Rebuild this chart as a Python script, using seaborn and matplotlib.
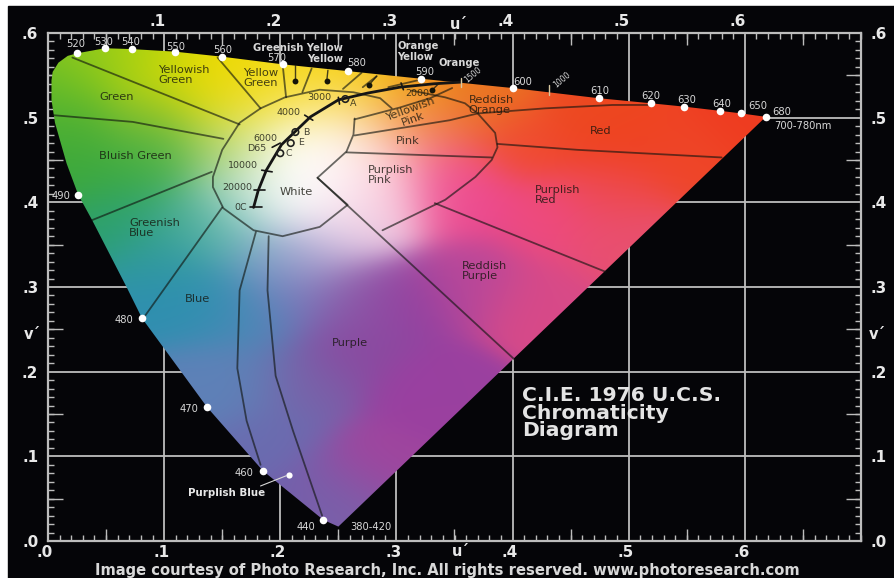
import numpy as np
import pandas as pd
import seaborn as sns
import matplotlib.pyplot as plt
from matplotlib.colors import to_rgb
from matplotlib.patches import Polygon, Rectangle
from matplotlib.transforms import ScaledTranslation

# spectral locus
locus_u = [.003, .004, .009, .017, .025, .049, .072, .109, .150, .202, .258, .321, .400, .474, .519, .548, .579, .597, .618,
           .250, .237, .185, .137, .081, .068, .038, .026, .016, .006, .003]
locus_v = [.544, .554, .565, .573, .576, .582, .581, .578, .572, .563, .555, .546, .535, .523, .517, .513, .508, .505, .501,
           .017, .025, .083, .158, .263, .299, .379, .409, .446, .494, .521]

# wavelength dots and their labels
wave_labels = ["520", "530", "540", "550", "560", "570", "580", "590", "600", "610", "620", "630", "640", "650", "680",
               "490", "480", "470", "460", "440"]
wave_u = [.025, .049, .072, .109, .150, .202, .258, .321, .400, .474, .519, .548, .579, .597, .618, .026, .081, .137, .185, .237]
wave_v = [.576, .582, .581, .578, .572, .563, .555, .546, .535, .523, .517, .513, .508, .505, .501, .409, .263, .158, .083, .025]
wave_text_u = [.024, .048, .071, .110, .150, .197, .266, .324, .409, .475, .519, .550, .580, .611, .632, .011, .065, .121, .169, .222]
wave_text_v = [.587, .589, .589, .584, .580, .571, .564, .554, .542, .532, .525, .521, .516, .514, .507, .407, .261, .156, .080, .017]

# colour anchors of the gamut
anchor_u = [.010, .028, .071, .109, .152, .204, .256, .307, .372, .475, .604, .493, .406, .329, .286, .243, .148, .088, .019,
            .088, .144, .174, .226, .217, .234, .191, .161, .032, .088, .062, .122, .105, .144, .109, .152, .191, .226, .260,
            .286, .286, .264, .338, .355, .432, .484, .544, .493, .424, .363, .303, .260, .329, .277, .251, .234, .191, .217,
            .165, .131, .174, .210, .260, .250, .240, .190, .230, .180, .240]
anchor_v = [.532, .566, .568, .550, .550, .544, .544, .532, .521, .503, .501, .473, .473, .485, .497, .515, .509, .509, .485,
            .473, .462, .473, .468, .438, .409, .403, .414, .438, .438, .385, .385, .332, .285, .273, .367, .332, .344, .373,
            .403, .450, .428, .438, .403, .379, .414, .456, .355, .285, .308, .285, .231, .178, .084, .037, .048, .119, .190,
            .190, .190, .261, .290, .290, .460, .490, .520, .525, .545, .548]
anchor_colors = ["#5cb82c", "#8cc81c", "#a8d210", "#d8dc04", "#f2da00", "#f8d800", "#f4c400", "#f09c10", "#ea7620", "#ec4a20",
                 "#ee3c20", "#f04020", "#f04a30", "#f07850", "#f8a860", "#faf0a8", "#d8d810", "#94c428", "#48ae35",
                 "#58b440", "#90c860", "#ecf0b0", "#ffffff", "#ffffff", "#ffffff", "#f8fbf8", "#b0d8c4", "#3ca83c", "#3cac48",
                 "#2ca070", "#40a890", "#2f98a0", "#2e90b0", "#2f8fb0", "#60b8b0", "#7aa0c8", "#c0b0d8", "#ecd0e8",
                 "#f8c8dc", "#fcd0d8", "#fde4ec", "#f05090", "#ec4a90", "#ee4a80", "#ee4a50", "#ee4628", "#e85070", "#d84a88",
                 "#b8489a", "#9440a0", "#8a4aa0", "#9a40a0", "#a0459e", "#8060a8", "#6f60ac", "#6a6cb0", "#7a60a8",
                 "#5c84b8", "#5f80b8", "#4c88b8", "#7a78bc", "#8a5ca8", "#ffffff", "#fffbe8", "#f4e878", "#fbe070",
                 "#ecd800", "#f8d400"]

# boundaries between the named colour regions
green_line = [(.021, .571), (.165, .492)]
yellowish_line = [(.146, .571), (.183, .511)]
yellow_green_line = [(.202, .563), (.205, .524)]
greenish_yellow_line = [(.227, .558), (.219, .530)]
yellow_line = [(.270, .553), (.254, .534)]
yellow_orange_line = [(.283, .549), (.271, .536)]
orange_line = [(.318, .544), (.293, .536)]
bluish_green_line = [(.004, .503), (.073, .495), (.151, .475)]
greenish_blue_line = [(.038, .379), (.141, .436)]
blue_line = [(.082, .263), (.150, .394)]
purplish_blue_left = [(.179, .365), (.165, .296), (.163, .204), (.171, .142), (.183, .090)]
purplish_blue_right = [(.190, .360), (.189, .296), (.196, .195), (.211, .130), (.224, .078), (.236, .030)]
white_arc = [(.296, .511), (.286, .523), (.263, .530), (.234, .533), (.204, .524), (.183, .511), (.165, .494), (.150, .462),
             (.142, .430), (.142, .418), (.151, .393), (.177, .367), (.202, .360), (.234, .371), (.258, .397), (.232, .429),
             (.257, .460), (.263, .480), (.264, .499)]
yellowish_pink_top = [(.264, .498), (.303, .512), (.329, .523), (.348, .535)]
pink_line = [(.264, .479), (.346, .497), (.370, .505), (.428, .511), (.486, .515), (.520, .515)]
pink_purple_line = [(.257, .459), (.382, .453)]
outer_arc = [(.313, .532), (.342, .524), (.359, .517), (.370, .505), (.385, .482), (.387, .465), (.382, .450), (.368, .430),
             (.342, .403), (.288, .367)]
red_line = [(.387, .469), (.456, .462), (.580, .453)]
purple_red_line = [(.333, .399), (.480, .318)]
purple_long_line = [(.232, .429), (.402, .214)]
region_lines = [green_line, yellowish_line, yellow_green_line, greenish_yellow_line, yellow_line, yellow_orange_line,
                orange_line, bluish_green_line, greenish_blue_line, blue_line, purplish_blue_left, purplish_blue_right,
                white_arc, yellowish_pink_top, pink_line, pink_purple_line, outer_arc, red_line, purple_red_line,
                purple_long_line]

# blackbody curve with its temperature marks
planck_u = [.177, .181, .188, .201, .226, .250, .275, .303, .332, .356]
planck_v = [.394, .414, .438, .468, .501, .521, .529, .536, .540, .542]
cct_marks = [[(.174, .394), (.184, .394)], [(.177, .415), (.187, .415)], [(.184, .438), (.193, .436)],
             [(.193, .465), (.200, .470)], [(.221, .503), (.228, .497)], [(.250, .524), (.251, .516)],
             [(.304, .541), (.306, .533)]]
cct_labels = [("3000", .234, .524), ("4000", .207, .506), ("6000", .187, .475), ("D65", .180, .464), ("10000", .168, .443),
              ("20000", .163, .417), ("0C", .166, .394), ("2000", .318, .528)]
illum_u = [.256, .213, .209, .200]
illum_v = [.522, .483, .470, .458]
illum_labels = [("A", .263, .517), ("B", .222, .483), ("E", .218, .471), ("C", .207, .458)]
pointer_dots_u = [.213, .240, .276, .331]
pointer_dots_v = [.543, .543, .538, .533]
pointer_tails = [[(.213, .562), (.213, .543)], [(.241, .556), (.240, .543)], [(.283, .549), (.276, .538)],
                 [(.337, .541), (.331, .533)]]
kelvin_ticks = [[(.356, .547), (.356, .536)], [(.431, .538), (.431, .527)]]
purplish_blue_pointer = [(.183, .065), (.205, .077)]
purplish_blue_dot_u = [.2075]
purplish_blue_dot_v = [.078]

region_labels = [("Green", .059, .524), ("Bluish Green", .075, .455), ("Yellow\nGreen", .183, .547), ("White", .214, .412),
                 ("Pink", .310, .472), ("Red", .476, .484), ("Blue", .129, .286), ("Purple", .260, .234)]
region_left_labels = [("Yellowish\nGreen", .095, .550), ("Greenish\nBlue", .070, .370), ("Purplish\nPink", .275, .432),
                      ("Reddish\nOrange", .362, .515), ("Purplish\nRed", .419, .409), ("Reddish\nPurple", .356, .319)]
outside_labels = [("Greenish Yellow", .215, .582), ("Yellow", .239, .569), ("Orange", .354, .565)]
u_ticks = [0, .1, .2, .3, .4, .5, .6]
v_ticks = [0, .1, .2, .3, .4, .5, .6]
tick_text = [".0", ".1", ".2", ".3", ".4", ".5", ".6"]
half_ticks = [.05, .15, .25, .35, .45, .55, .65]

sns.set_theme(style="ticks", rc={"axes.facecolor": "black"})
plt.rcParams["font.family"] = ["DejaVu Sans"]

fig = plt.figure(figsize=(8.94, 5.78), dpi=100, facecolor="white")
fig.add_artist(Rectangle((8 / 894, 0), 886 / 894, 572 / 578, transform=fig.transFigure, color="#050508", zorder=-5))
ax = fig.add_axes([48 / 894, 1 - 541 / 578, 813 / 894, 508 / 578])
ax.set_xlim(0, .7)
ax.set_ylim(0, .6)
GRID = "#bdbdbd"
ax.set_facecolor("#050508")

# gradient of the gamut, clipped to the locus
uu, vv = np.meshgrid(np.linspace(0, .7, 700), np.linspace(0, .6, 500))
au, av = np.array(anchor_u), np.array(anchor_v)
rgb = np.array([to_rgb(c) for c in anchor_colors])
weights = np.exp(-((uu[..., None] - au) ** 2 + (vv[..., None] - av) ** 2) / (2 * .03 ** 2)) + 1e-12
field = (weights[..., None] * rgb).sum(axis=2) / weights.sum(axis=2, keepdims=True)
im = ax.imshow(field, extent=(0, .7, 0, .6), origin="lower", aspect="auto", zorder=1, interpolation="bilinear")
gamut = Polygon(list(zip(locus_u, locus_v)), closed=True, transform=ax.transData, facecolor="none", edgecolor="none")
ax.add_patch(gamut)
im.set_clip_path(gamut)


def draw_line(points, color, width, alpha=1.0):
    line = pd.DataFrame(points, columns=["u", "v"])
    sns.lineplot(data=line, x="u", y="v", sort=False, estimator=None, color=color, linewidth=width, alpha=alpha,
                 legend=False, ax=ax, zorder=3)


for points in region_lines:
    draw_line(points, "#10140f", 1.3, .62)
draw_line(list(zip(planck_u, planck_v)), "#151515", 2.0)
for points in cct_marks:
    draw_line(points, "#151515", 1.2)
for points in pointer_tails:
    draw_line(points, "#1a1a10", 1.0, .8)
for points in kelvin_ticks:
    draw_line(points, "#d8c8a0", 1.0)
draw_line(purplish_blue_pointer, "#d8d8d8", .8)

# dots
sns.scatterplot(x=wave_u, y=wave_v, color="white", s=30, linewidth=0, legend=False, ax=ax, zorder=5)
sns.scatterplot(x=purplish_blue_dot_u, y=purplish_blue_dot_v, color="white", s=20, linewidth=0, legend=False, ax=ax, zorder=5)
sns.scatterplot(x=pointer_dots_u, y=pointer_dots_v, color="#141408", s=18, linewidth=0, legend=False, ax=ax, zorder=5)
sns.scatterplot(x=illum_u, y=illum_v, facecolor="none", edgecolor="#202020", s=22, linewidth=1.2, legend=False, ax=ax, zorder=5)

# axis dressing
ax.set_xticks(u_ticks, tick_text)
ax.set_yticks(v_ticks, tick_text)
ax.set_xticks(np.arange(0, .701, .01), minor=True)
ax.set_yticks(np.arange(0, .601, .01), minor=True)
ax.set_xlabel("")
ax.set_ylabel("")
ax.set_axisbelow(True)
ax.grid(True, which="major", color=GRID, linewidth=1.3)
ax.tick_params(which="minor", direction="in", length=4, width=1, color=GRID, top=True, bottom=True, left=True, right=True)
ax.tick_params(which="major", direction="in", length=0, top=True, bottom=True, left=True, right=True, labeltop=True,
               labelbottom=True, labelleft=True, labelright=True, labelsize=11, labelcolor="#e8e8e8")
ax.tick_params(axis="x", which="major", pad=3)
ax.tick_params(axis="y", which="major", pad=7)
for lab in ax.get_xticklabels() + ax.get_yticklabels():
    lab.set_fontweight("bold")
for tick in ax.xaxis.get_major_ticks():
    tick.label1.set_transform(tick.label1.get_transform() + ScaledTranslation(-3 / 100, 0, fig.dpi_scale_trans))
    tick.label2.set_transform(tick.label2.get_transform() + ScaledTranslation(-7 / 100, 0, fig.dpi_scale_trans))
ax.xaxis.get_major_ticks()[0].label2.set_visible(False)
for spine in ax.spines.values():
    spine.set_color(GRID)
    spine.set_linewidth(1.6)
for t in half_ticks:
    ax.vlines(t, 0, .014, color=GRID, linewidth=1, zorder=.7)
    ax.vlines(t, .586, .6, color=GRID, linewidth=1, zorder=.7)
for t in half_ticks[:-1]:
    ax.hlines(t, 0, .013, color=GRID, linewidth=1, zorder=.7)
    ax.hlines(t, .687, .7, color=GRID, linewidth=1, zorder=.7)

# texts
small = dict(color="#d8d8d8", fontsize=7.2, ha="center", va="center", zorder=6)
for lab, x, y in zip(wave_labels, wave_text_u, wave_text_v):
    ax.text(x, y, lab, **small)
ax.text(.650, .490, "700-780nm", **small)
ax.text(.278, .017, "380-420", **small)
ax.text(.366, .551, "1500", rotation=40, **{**small, "fontsize": 5.5})
ax.text(.443, .545, "1000", rotation=40, **{**small, "fontsize": 5.5})
ax.text(.154, .057, "Purplish Blue", color="#e8e8e8", fontsize=7.4, fontweight="bold", ha="center", va="center", zorder=6)
for lab, x, y in outside_labels:
    ax.text(x, y, lab, color="#d8d8d8", fontsize=7.2, fontweight="bold", ha="center", va="center", zorder=6)
ax.text(.301, .578, "Orange\nYellow", color="#d8d8d8", fontsize=7.2, fontweight="bold", ha="left", va="center",
        linespacing=1.05, zorder=6)

dark = dict(color="#14140c", alpha=.78, fontsize=8.2, ha="center", va="center", linespacing=1.0, zorder=6)
for lab, x, y in region_labels:
    ax.text(x, y, lab, **dark)
for lab, x, y in region_left_labels:
    ax.text(x, y, lab, **{**dark, "ha": "left"})
ax.text(.313, .504, "Yellowish\nPink", rotation=20, **dark)
for lab, x, y in cct_labels:
    ax.text(x, y, lab, **{**dark, "fontsize": 6.8})
for lab, x, y in illum_labels:
    ax.text(x, y, lab, **{**dark, "fontsize": 6.8})

prime = dict(color="#e8e8e8", fontsize=10.5, fontweight="bold", ha="center", va="center", clip_on=False)
ax.text(.354, .610, "u\u00b4", **prime)
ax.text(.355, -.012, "u\u00b4", **prime)
ax.text(-.0138, .244, "v\u00b4", **prime)
ax.text(.714, .244, "v\u00b4", **prime)

ax.text(.408, .151, "C.I.E. 1976 U.C.S.\nChromaticity\nDiagram", color="#e4e4e4", fontsize=14.6, fontweight="bold",
        ha="left", va="center", linespacing=.88, zorder=6)
fig.text(447 / 894, 1 - 570 / 578, "Image courtesy of Photo Research, Inc. All rights reserved. www.photoresearch.com",
         color="#d8d8d8", fontsize=10.6, fontweight="bold", ha="center", va="center")

fig.savefig("out.png", dpi=100, facecolor=fig.get_facecolor())
